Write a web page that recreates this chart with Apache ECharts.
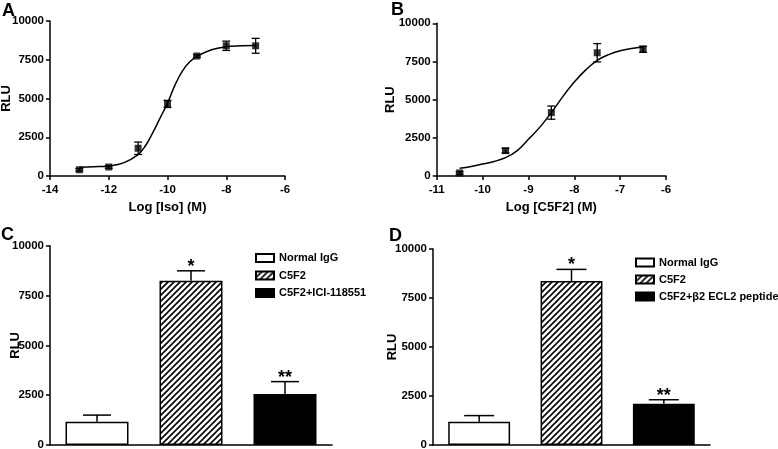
<!DOCTYPE html>
<html>
<head>
<meta charset="utf-8">
<script src="https://cdn.jsdelivr.net/npm/echarts@6/dist/echarts.min.js"></script>
<style>html,body{margin:0;padding:0;background:#fff}#c{width:778px;height:449px}</style>
</head>
<body>
<div id="c"></div>
<script>
// Panel A: Log [Iso] (M) dose-response
const aX = [-13, -12, -11, -10, -9, -8, -7];
const aY = [400, 580, 1790, 4650, 7740, 8400, 8400];
const aErr = [80, 80, 400, 230, 80, 300, 480];
const aCurveX = [-13, -12.5, -12, -11.5, -11, -10.75, -10.5, -10.25, -10, -9.75, -9.5, -9.25, -9, -8.5, -8, -7.5, -7];
const aCurveY = [570, 600, 650, 850, 1380, 1950, 2800, 3750, 4700, 5850, 6750, 7350, 7720, 8150, 8340, 8400, 8420];
// Panel B: Log [C5F2] (M) dose-response
const bX = [-10.5, -9.5, -8.5, -7.5, -6.5];
const bY = [200, 1660, 4150, 8070, 8300];
const bErr = [80, 150, 430, 600, 200];
const bCurveX = [-10.5, -10.25, -10, -9.75, -9.5, -9.25, -9, -8.75, -8.5, -8.25, -8, -7.75, -7.5, -7.25, -7, -6.75, -6.5];
const bCurveY = [500, 620, 780, 950, 1200, 1650, 2400, 3200, 4150, 5200, 6150, 6950, 7580, 7950, 8200, 8350, 8450];
// Panel C bars
const cNames = ['Normal IgG', 'C5F2', 'C5F2+ICI-118551'];
const cVals = [1170, 8240, 2560];
const cErr = [330, 500, 620];
const cStars = ['', '*', '**'];
// Panel D bars
const dNames = ['Normal IgG', 'C5F2', 'C5F2+\u03b22 ECL2 peptide'];
const dVals = [1190, 8370, 2110];
const dErr = [310, 590, 200];
const dStars = ['', '*', '**'];

const FONT = 'Arial, "Liberation Sans", sans-serif';

function hatch() {
  const s = 6;
  const c = document.createElement('canvas');
  c.width = s; c.height = s;
  const g = c.getContext('2d');
  g.fillStyle = '#fff'; g.fillRect(0, 0, s, s);
  g.strokeStyle = '#000'; g.lineWidth = 1.6;
  g.beginPath();
  g.moveTo(-1, s + 1); g.lineTo(s + 1, -1);
  g.moveTo(-s / 2 - 1, s / 2 + 1); g.lineTo(s / 2 + 1, -s / 2 - 1);
  g.moveTo(s / 2 - 1, s * 1.5 + 1); g.lineTo(s * 1.5 + 1, s / 2 - 1);
  g.stroke();
  return c;
}
const hatchFill = { image: hatch(), repeat: 'repeat' };
const fills = ['#ffffff', hatchFill, '#000000'];

const chart = echarts.init(document.getElementById('c'), null, { renderer: 'canvas' });

const axisLine = { lineStyle: { color: '#000', width: 1.5 } };
const axisTick = { show: true, length: 4, lineStyle: { color: '#000', width: 1.5 } };
const lbl = { color: '#000', fontWeight: 'bold', fontSize: 11.5, fontFamily: FONT, formatter: v => String(v) };
const legText = { color: '#000', fontWeight: 'bold', fontSize: 11, fontFamily: FONT };
const nameStyle = { color: '#000', fontWeight: 'bold', fontSize: 13, fontFamily: FONT };

function yAxis(gi, gap) {
  return {
    type: 'value', gridIndex: gi, min: 0, max: 10000, interval: 2500,
    name: 'RLU', nameLocation: 'middle', nameGap: gap, nameMoveOverlap: false, nameTextStyle: nameStyle,
    axisLine: { show: true, ...axisLine }, axisTick, splitLine: { show: false },
    axisLabel: { ...lbl, margin: 6 }
  };
}

function errScatter(xs, ys, es, gi) {
  return {
    type: 'custom', xAxisIndex: gi, yAxisIndex: gi, z: 5,
    data: xs.map((x, i) => [x, ys[i], es[i]]),
    renderItem(params, api) {
      const x = api.value(0), y = api.value(1), e = api.value(2);
      const t = api.coord([x, y + e]), b = api.coord([x, y - e]);
      const w = 4;
      const st = { stroke: '#000', lineWidth: 1.3 };
      return { type: 'group', children: [
        { type: 'line', shape: { x1: t[0], y1: t[1], x2: b[0], y2: b[1] }, style: st },
        { type: 'line', shape: { x1: t[0] - w, y1: t[1], x2: t[0] + w, y2: t[1] }, style: st },
        { type: 'line', shape: { x1: b[0] - w, y1: b[1], x2: b[0] + w, y2: b[1] }, style: st }
      ] };
    }
  };
}

function errBars(vals, errs, stars, gi, cap) {
  return {
    type: 'custom', xAxisIndex: gi, yAxisIndex: gi, z: 5,
    data: vals.map((v, i) => [i, v, errs[i]]),
    renderItem(params, api) {
      const i = api.value(0), v = api.value(1), e = api.value(2);
      const t = api.coord([i, v + e]), b = api.coord([i, v]);
      const st = { stroke: '#000', lineWidth: 1.5 };
      const ch = [
        { type: 'line', shape: { x1: t[0], y1: t[1], x2: b[0], y2: b[1] }, style: st },
        { type: 'line', shape: { x1: t[0] - cap, y1: t[1], x2: t[0] + cap, y2: t[1] }, style: st }
      ];
      const s = stars[params.dataIndex];
      if (s) ch.push({ type: 'text', style: { text: s, x: t[0], y: t[1] + 5, textAlign: 'center', textVerticalAlign: 'bottom', font: 'bold 18px ' + FONT, fill: '#000' } });
      return { type: 'group', children: ch };
    }
  };
}

function barSeries(names, vals, gi) {
  return names.map((n, k) => ({
    type: 'bar', name: n, xAxisIndex: gi, yAxisIndex: gi,
    barWidth: '67%', barGap: '-100%',
    data: vals.map((v, i) => (i === k ? v : '-')),
    itemStyle: { color: fills[k], borderColor: '#000', borderWidth: 1.5 },
    emphasis: { disabled: true }
  }));
}

const letter = { fontSize: 18, fontWeight: 'bold', fontFamily: FONT, color: '#000' };

const option = {
  animation: false,
  backgroundColor: '#fff',
  title: [
    { text: 'A', left: 2, top: 2, padding: 0, textStyle: letter },
    { text: 'B', left: 391, top: 1, padding: 0, textStyle: letter },
    { text: 'C', left: 1, top: 226, padding: 0, textStyle: letter },
    { text: 'D', left: 389, top: 227, padding: 0, textStyle: letter }
  ],
  grid: [
    { left: 50, top: 21, width: 235, height: 155, outerBoundsMode: 'none', containLabel: false },
    { left: 436.7, top: 23.3, width: 229.3, height: 152.7, outerBoundsMode: 'none', containLabel: false },
    { left: 50, top: 245.7, width: 282, height: 199.3, outerBoundsMode: 'none', containLabel: false },
    { left: 433, top: 249, width: 277, height: 196, outerBoundsMode: 'none', containLabel: false }
  ],
  legend: [
    { data: cNames, orient: 'vertical', left: 255, top: 252.5, padding: 0, icon: 'rect', itemWidth: 18, itemHeight: 8, itemGap: 6.5,
      textStyle: legText, selectedMode: false },
    { data: dNames, orient: 'vertical', left: 635, top: 257, padding: 0, icon: 'rect', itemWidth: 18, itemHeight: 8, itemGap: 6,
      textStyle: legText, selectedMode: false }
  ],
  xAxis: [
    { type: 'value', gridIndex: 0, min: -14, max: -6, interval: 2, name: 'Log [Iso] (M)', nameLocation: 'middle', nameGap: 25,
      nameTextStyle: nameStyle, axisLine: { show: true, onZero: false, ...axisLine }, axisTick, splitLine: { show: false }, axisLabel: { ...lbl, margin: 8 } },
    { type: 'value', gridIndex: 1, min: -11, max: -6, interval: 1, name: 'Log [C5F2] (M)', nameLocation: 'middle', nameGap: 25,
      nameTextStyle: nameStyle, axisLine: { show: true, onZero: false, ...axisLine }, axisTick, splitLine: { show: false }, axisLabel: { ...lbl, margin: 8 } },
    { type: 'category', gridIndex: 2, data: cNames, axisLine: { show: true, ...axisLine }, axisTick: { show: false }, axisLabel: { show: false } },
    { type: 'category', gridIndex: 3, data: dNames, axisLine: { show: true, ...axisLine }, axisTick: { show: false }, axisLabel: { show: false } }
  ],
  yAxis: [yAxis(0, 37), yAxis(1, 40), yAxis(2, 28), yAxis(3, 34)],
  series: [
    { type: 'line', xAxisIndex: 0, yAxisIndex: 0, data: aCurveX.map((x, i) => [x, aCurveY[i]]), smooth: 0.4, showSymbol: false,
      lineStyle: { color: '#000', width: 1.5 }, z: 3 },
    errScatter(aX, aY, aErr, 0),
    { type: 'scatter', xAxisIndex: 0, yAxisIndex: 0, data: aX.map((x, i) => [x, aY[i]]), symbol: 'rect', symbolSize: 7,
      itemStyle: { color: '#000' }, z: 6 },
    { type: 'line', xAxisIndex: 1, yAxisIndex: 1, data: bCurveX.map((x, i) => [x, bCurveY[i]]), smooth: 0.4, showSymbol: false,
      lineStyle: { color: '#000', width: 1.5 }, z: 3 },
    errScatter(bX, bY, bErr, 1),
    { type: 'scatter', xAxisIndex: 1, yAxisIndex: 1, data: bX.map((x, i) => [x, bY[i]]), symbol: 'rect', symbolSize: 7,
      itemStyle: { color: '#000' }, z: 6 },
    ...barSeries(cNames, cVals, 2),
    errBars(cVals, cErr, cStars, 2, 14),
    ...barSeries(dNames, dVals, 3),
    errBars(dVals, dErr, dStars, 3, 15)
  ]
};
chart.setOption(option);
</script>
</body>
</html>
